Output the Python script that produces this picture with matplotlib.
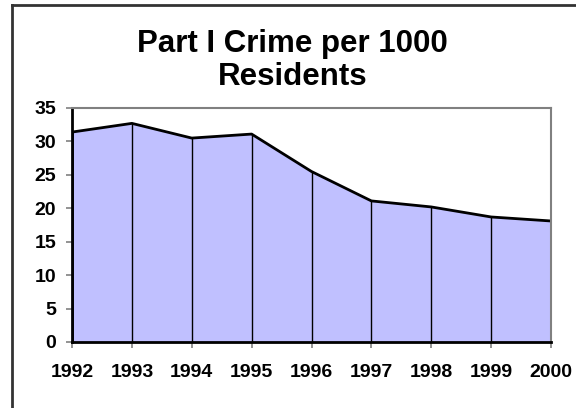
import matplotlib
matplotlib.use('Agg')
import matplotlib.pyplot as plt

years = [1992, 1993, 1994, 1995, 1996, 1997, 1998, 1999, 2000]
crime_rate = [31.4, 32.7, 30.5, 31.1, 25.5, 21.1, 20.2, 18.7, 18.1]
y_ticks = [0, 5, 10, 15, 20, 25, 30, 35]
title_lines = ['Part I Crime per 1000', 'Residents']

plt.rcParams['font.family'] = ['Liberation Sans', 'DejaVu Sans']
plt.rcParams['font.weight'] = 'bold'

fig = plt.figure(figsize=(5.76, 4.08), dpi=100)
ax = fig.add_axes([0.125, 0.1618, 0.8316, 0.5735])

# area + outline + drop lines
ax.fill_between(years, crime_rate, 0, color='#C0C0FF', linewidth=0)
ax.vlines(years[1:-1], 0, crime_rate[1:-1], color='black', linewidth=1)
ax.vlines([years[0], years[-1]], 0, [crime_rate[0], crime_rate[-1]], color='black', linewidth=2)
ax.plot(years, crime_rate, color='black', linewidth=2, solid_joinstyle='round')

ax.set_xlim(years[0], years[-1])
ax.set_ylim(0, 35)
ax.set_xticks(years)
ax.set_yticks(y_ticks)
ax.tick_params(axis='x', labelsize=14, length=4.5, width=1.2, color='#808080', pad=11)
ax.tick_params(axis='y', labelsize=14, length=4.5, width=1.2, color='#808080', pad=7)

for s in ['left', 'bottom']:
    ax.spines[s].set_color('black')
    ax.spines[s].set_linewidth(2)
for s in ['top', 'right']:
    ax.spines[s].set_color('#808080')
    ax.spines[s].set_linewidth(1.5)

# two-line title, baselines at ~52px and ~85px from the top
fig.text(0.508, 1 - 52 / 408, title_lines[0], ha='center', va='baseline',
         fontsize=22.5, fontweight='bold')
fig.text(0.508, 1 - 85 / 408, title_lines[1], ha='center', va='baseline',
         fontsize=22.5, fontweight='bold')

# outer chart frame (only left and top edges visible)
fig.add_artist(plt.Line2D([12 / 576, 12 / 576], [0, 1 - 5 / 408], color='#333333', linewidth=2))
fig.add_artist(plt.Line2D([12 / 576, 1], [1 - 5 / 408, 1 - 5 / 408], color='#333333', linewidth=2))

fig.savefig('out.png', dpi=100)
